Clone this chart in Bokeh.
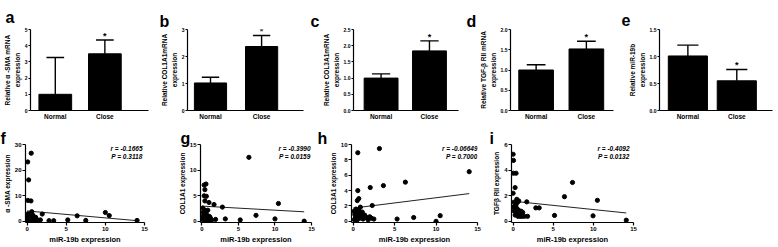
from bokeh.plotting import figure
from bokeh.models import Range1d, FixedTicker, Label, LinearAxis, Title, NumeralTickFormatter
from bokeh.layouts import row, column
from bokeh.embed import file_html
from bokeh.resources import INLINE
from bokeh.core.properties import value

# ---------------- data ----------------
categories = ["Normal", "Close"]

a_mean = [1.0, 3.5]
a_err = [2.27, 0.85]
b_mean = [1.02, 2.37]
b_err = [0.21, 0.41]
c_mean = [1.0, 1.84]
c_err = [0.13, 0.31]
d_mean = [1.0, 1.52]
d_err = [0.13, 0.19]
e_mean = [1.01, 0.55]
e_err = [0.2, 0.21]

f_x = [0.08, 0.53, 0.2, 0.1, 0.5, 0.6, 1.94, 2.8, 3.4, 5.2, 6.4, 7.5, 10.0, 10.5, 14.05, 1.7,
       0.05, 0.15, 0.25, 0.3, 0.35, 0.4, 0.45, 0.55, 0.65, 0.7, 0.8, 0.9, 1.0, 1.1, 1.2, 1.3,
       0.12, 0.22, 0.6, 0.75, 0.95]
f_y = [23.2, 26.6, 16.2, 8.2, 8.0, 3.8, 2.9, 0.3, 0.3, 0.6, 2.2, 0.4, 3.5, 2.3, 0.4, 0.6,
       1.5, 0.5, 2.5, 1.0, 0.2, 1.8, 0.8, 1.2, 0.4, 2.0, 0.6, 1.1, 0.3, 1.6, 0.9, 0.2,
       3.0, 0.1, 1.4, 2.4, 0.7]

g_x = [6.43, 0.3, 0.55, 0.4, 0.3, 0.6, 0.4, 0.96, 1.65, 2.8, 10.47, 7.4, 10.0, 14.0, 5.24, 3.2, 1.86,
       0.1, 0.2, 0.5, 0.15, 0.7, 0.9, 0.35, 1.1, 0.6, 1.3, 0.8, 0.25, 0.45, 1.0, 0.05, 1.2, 0.65, 0.3]
g_y = [12.5, 7.1, 7.3, 6.2, 5.0, 4.9, 4.0, 3.7, 3.3, 2.8, 3.5, 1.2, 0.5, 0.06, 0.3, 0.5, 0.4,
       2.6, 1.8, 1.2, 0.9, 0.6, 0.3, 0.5, 0.8, 1.5, 0.2, 2.2, 1.4, 0.2, 1.0, 0.4, 0.5, 0.1, 2.3]

h_x = [0.56, 3.17, 3.65, 2.06, 0.56, 0.68, 0.5, 2.3, 0.87, 14.0, 6.3, 5.3, 7.3, 10.0, 10.5,
       0.1, 0.2, 0.3, 0.4, 0.5, 0.6, 0.7, 0.8, 0.9, 1.0, 1.2, 1.4, 1.6, 1.8, 2.0, 2.2, 2.5,
       0.15, 0.35, 1.1, 0.25, 0.45]
h_y = [8.93, 9.47, 4.65, 4.4, 4.0, 2.96, 2.7, 2.06, 1.85, 6.46, 5.1, 0.3, 0.5, 0.0, 0.74,
       1.3, 0.9, 0.5, 1.1, 0.2, 0.7, 1.4, 0.4, 1.0, 0.6, 0.3, 0.8, 0.5, 0.2, 0.6, 0.4, 0.3,
       0.2, 1.6, 1.2, 0.4, 0.8]

i_x = [0.0, 0.05, 0.04, 0.37, 0.25, 0.0, 0.46, 1.7, 2.83, 3.25, 5.16, 6.4, 7.4, 10.5, 9.96, 14.1,
       0.1, 0.2, 0.3, 0.15, 0.4, 0.5, 0.6, 0.7, 0.8, 0.9, 1.0, 1.1, 1.2, 1.4, 1.8, 0.05, 0.25,
       0.35, 0.55, 0.65, 0.45]
i_y = [5.24, 4.76, 3.76, 3.76, 2.64, 2.2, 1.73, 1.53, 1.06, 1.06, 0.47, 1.93, 3.04, 1.65, 0.44, 0.1,
       1.5, 1.2, 1.0, 0.8, 1.4, 0.6, 0.4, 1.6, 0.5, 0.4, 0.8, 0.4, 0.7, 0.4, 0.4, 1.1, 0.5,
       1.2, 1.5, 0.9, 1.0]

# regression lines (intercept, slope)
f_fit = [4.1, -0.27]
g_fit = [3.0, -0.08]
h_fit = [1.72, 0.135]
i_fit = [1.58, -0.065]

f_stats = ["r = -0.1665", "P = 0.3118"]
g_stats = ["r = -0.3990", "P = 0.0159"]
h_stats = ["r = -0.06649", "P = 0.7000"]
i_stats = ["r = -0.4092", "P = 0.0132"]

scatter_xticks = [0, 5, 10, 15]

# ---------------- style ----------------
FONT = "Liberation Sans"


def style_axis(ax, tick_size, label_size):
    ax.axis_line_color = "black"
    ax.axis_line_width = 1.2
    ax.major_tick_line_color = "black"
    ax.major_tick_line_width = 1.2
    ax.major_tick_out = 2
    ax.major_tick_in = 0
    ax.minor_tick_line_color = None
    ax.minor_tick_out = 0
    ax.major_label_text_font = FONT
    ax.major_label_text_font_style = "bold"
    ax.major_label_text_font_size = tick_size
    ax.major_label_text_color = "black"
    ax.major_label_standoff = 1
    ax.axis_label_text_font = FONT
    ax.axis_label_text_font_style = "bold"
    ax.axis_label_text_font_size = label_size
    ax.axis_label_text_color = "black"
    ax.axis_label_standoff = 1


def base_fig(xr, yr, W, H, mbl, mbr, mbt, mbb):
    p = figure(width=W, height=H, x_range=Range1d(*xr), y_range=Range1d(*yr),
               output_backend="svg", toolbar_location=None,
               min_border_left=mbl, min_border_right=mbr, min_border_top=mbt, min_border_bottom=mbb)
    p.outline_line_color = None
    p.xgrid.visible = False
    p.ygrid.visible = False
    p.border_fill_color = "white"
    return p


def add_letter(p, letter, lx, mbl, standoff):
    p.title = Title(text=letter, align="left", offset=lx - mbl - 6, text_font=FONT,
                    text_font_style="bold", text_font_size="16px", standoff=standoff,
                    vertical_align="bottom", text_color="black")


def bar_panel(letter, mean, err, ymax, yticks, ylabel_outer, xr, bw, W, H, mbl, mbr, mbt, mbb, lx, lso):
    idx = list(range(len(categories)))
    upper = [m + e for m, e in zip(mean, err)]
    p = base_fig(xr, (0, ymax), W, H, mbl, mbr, mbt, mbb)
    cw = bw * 0.27
    p.segment(x0=idx, y0=mean, x1=idx, y1=upper, line_color="black", line_width=1.4)
    p.segment(x0=[i - cw for i in idx], y0=upper, x1=[i + cw for i in idx], y1=upper,
              line_color="black", line_width=1.4)
    p.vbar(x=idx, top=mean, width=bw, bottom=0, fill_color="black", line_color="black")
    star_i = 1
    p.text(x=[idx[star_i]], y=[upper[star_i]], text=["*"], text_font=value(FONT),
           text_font_style="bold", text_font_size="9px", text_align="center",
           text_baseline="bottom", y_offset=1, text_color="black")
    style_axis(p.xaxis[0], "5px", "6.5px")
    style_axis(p.yaxis[0], "5px", "6.5px")
    p.xaxis[0].ticker = FixedTicker(ticks=idx)
    p.xaxis[0].major_label_overrides = {i: c for i, c in zip(idx, categories)}
    p.xaxis[0].major_tick_line_color = None
    p.xaxis[0].major_tick_out = 0
    p.xaxis[0].major_label_text_font_size = "6.5px"
    p.xaxis[0].major_label_standoff = 2
    p.yaxis[0].ticker = FixedTicker(ticks=yticks)
    p.yaxis[0].axis_label = "expression"
    outer = LinearAxis(ticker=FixedTicker(ticks=[]), axis_label=ylabel_outer)
    style_axis(outer, "5px", "6.5px")
    outer.axis_line_color = None
    outer.major_tick_line_color = None
    outer.major_tick_out = 0
    outer.axis_label_standoff = 0
    p.add_layout(outer, "left")
    add_letter(p, letter, lx, mbl, lso)
    return p


def scatter_panel(letter, xs, ys, fit, stats, ymax, ystart, yticks, ylabel, W, H, mbl, mbr, mbt, mbb, lx, rgap):
    p = base_fig((-0.2, 15), (ystart, ymax), W, H, mbl, mbr, mbt, mbb)
    x_end = max(xs)
    p.line(x=[0, x_end], y=[fit[0], fit[0] + fit[1] * x_end], line_color="#222222", line_width=1.0)
    p.scatter(x=xs, y=ys, size=4.2, fill_color="black", line_color="black")
    style_axis(p.xaxis[0], "6px", "7.5px")
    style_axis(p.yaxis[0], "6px", "6.5px")
    p.xaxis[0].major_tick_out = 3
    p.yaxis[0].major_tick_out = 3
    p.xaxis[0].ticker = FixedTicker(ticks=scatter_xticks)
    p.xaxis[0].axis_label = "miR-19b expression"
    p.yaxis[0].ticker = FixedTicker(ticks=yticks)
    p.yaxis[0].axis_label = ylabel
    fw = W - mbl - mbr
    fh = H - mbt - mbb
    for k, s in enumerate(stats):
        p.add_layout(Label(x=fw - rgap, y=fh - 7 - 7.5 * k, x_units="screen", y_units="screen",
                           text=s, text_font=FONT, text_font_style="bold italic",
                           text_font_size="6.5px", text_align="right", text_baseline="middle",
                           text_color="black"))
    add_letter(p, letter, lx, mbl, -5)
    return p


TH = 122
pa = bar_panel("a", a_mean, a_err, 5, [0, 1, 2, 3, 4, 5], "Relative α -SMA mRNA",
               (-0.5, 1.88), 0.66, 155, TH, 22, 7, 29, 9, 3, 8)
pb = bar_panel("b", b_mean, b_err, 3, [0, 1, 2, 3], "Relative COL1A1mRNA",
               (-0.45, 1.82), 0.63, 155, TH, 32, 7, 19, 8, 10, 0)
pc = bar_panel("c", c_mean, c_err, 2.5, [0, 0.5, 1.0, 1.5, 2.0, 2.5], "Relative COL3A1mRNA",
               (-0.57, 1.6), 0.7, 155, TH, 43, 7, 19, 8, 6, 0)
pd_ = bar_panel("d", d_mean, d_err, 2.0, [0, 0.5, 1.0, 1.5, 2.0], "Relative TGF-β RII mRNA",
                (-0.51, 1.54), 0.69, 155, TH, 45, 7, 20, 8, 7, 0)
pe = bar_panel("e", e_mean, e_err, 1.5, [0, 0.5, 1.0, 1.5], "Relative miR-19b",
               (-0.58, 1.73), 0.8, 156, TH, 39, 4, 29, 7, 7, 8)

for p_ in (pc, pd_, pe):
    p_.yaxis[0].formatter = NumeralTickFormatter(format="0.0")

BH = 124
pf = scatter_panel("f", f_x, f_y, f_fit, f_stats, 30, -0.4, [0, 10, 20, 30], "α -SMA expression",
                   175, BH, 22, 31, 22, 21, 3, 5)
pg = scatter_panel("g", g_x, g_y, g_fit, g_stats, 15, -0.2, [0, 5, 10, 15], "COL1A1 expression",
                   143, BH, 21, 7, 22, 21, 7, 5)
ph = scatter_panel("h", h_x, h_y, h_fit, h_stats, 10, -0.15, [0, 2, 4, 6, 8, 10], "COL3A1 expression",
                   169, BH, 33, 10, 22, 21, 5, 0)
pi = scatter_panel("i", i_x, i_y, i_fit, i_stats, 6, -0.08, [0, 2, 4, 6], "TGFβ RII expression",
                   289, BH, 24, 143, 22, 21, 8, 4)

layout = column(row(pa, pb, pc, pd_, pe), row(pf, pg, ph, pi))
open("out.html", "w").write(file_html(layout, INLINE))
